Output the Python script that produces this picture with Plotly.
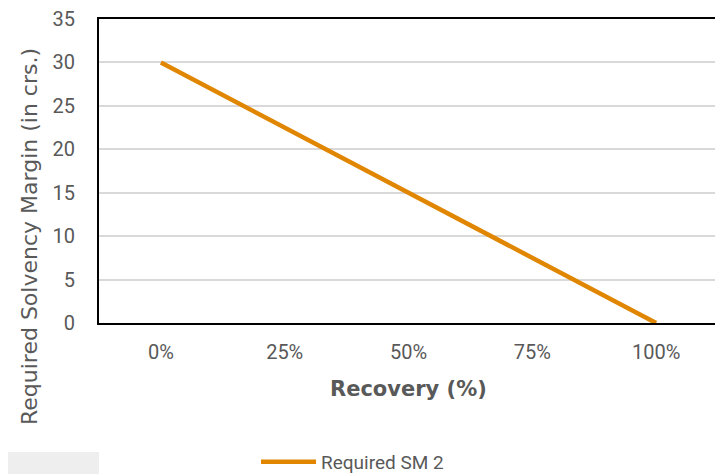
import plotly.graph_objects as go

categories = ["0%", "25%", "50%", "75%", "100%"]
required_sm = [30, 22.5, 15, 7.5, 0]
y_ticks = [0, 5, 10, 15, 20, 25, 30, 35]

# the page body has an 8px default margin, so the figure is drawn offset by 8px
OFF = 8
W, H = 723 - OFF, 474 - OFF
L, T = 99 - OFF, 19 - OFF
R = W - (718 - OFF)
B = H - (323 - OFF)
PW, PH = W - L - R, H - T - B

def px_x(px):
    return (px - OFF - L) / PW

def px_y(py):
    return (H - B - (py - OFF)) / PH

fig = go.Figure()
fig.add_trace(go.Scatter(
    x=categories, y=required_sm, mode="lines", name="Required SM 2",
    line=dict(color="#E08600", width=4.5),
))

tick_font = dict(family="Roboto, Arial, sans-serif", size=20, color="#595959")
title_font = "DejaVu Sans, Verdana, sans-serif"

fig.update_layout(
    width=W, height=H,
    margin=dict(l=L, r=R, t=T, b=B),
    paper_bgcolor="white", plot_bgcolor="white",
    font=dict(family="Roboto, Arial, sans-serif", color="#595959", size=19),
    showlegend=True,
    legend=dict(orientation="h", xref="container", yref="container",
                x=(256 - OFF) / W, xanchor="left", y=(H - (462 - OFF)) / H, yanchor="middle",
                font=dict(family="Roboto, Arial, sans-serif", size=19, color="#595959"),
                itemwidth=55, bgcolor="rgba(0,0,0,0)"),
    xaxis=dict(type="category", range=[-0.5, 4.5], showgrid=False,
               showline=True, linecolor="black", linewidth=2, mirror=True,
               ticks="", tickfont=tick_font, ticklabelstandoff=10, automargin=False),
    yaxis=dict(range=[0, 35], tickvals=y_ticks, showgrid=True, gridcolor="#D9D9D9", gridwidth=1.5,
               showline=True, linecolor="black", linewidth=2, mirror=True,
               ticks="", zeroline=False, tickfont=tick_font, ticklabelstandoff=18,
               ticklabeloverflow="allow", automargin=False),
    annotations=[
        dict(text="Recovery (%)", xref="paper", yref="paper", x=0.5, y=px_y(389),
             xanchor="center", yanchor="middle", showarrow=False,
             font=dict(family=title_font, size=21, color="#595959", weight="bold")),
        dict(text="Required Solvency Margin (in crs.)", xref="paper", yref="paper",
             x=px_x(29), y=px_y(237), textangle=-90,
             xanchor="center", yanchor="middle", showarrow=False,
             font=dict(family=title_font, size=22, color="#595959")),
    ],
    shapes=[dict(type="rect", xref="paper", yref="paper", x0=px_x(8), x1=px_x(99),
                 y0=px_y(480), y1=px_y(452),
                 fillcolor="#EEEEEE", line=dict(width=0), layer="below")],
)

fig.write_html("out.html")
